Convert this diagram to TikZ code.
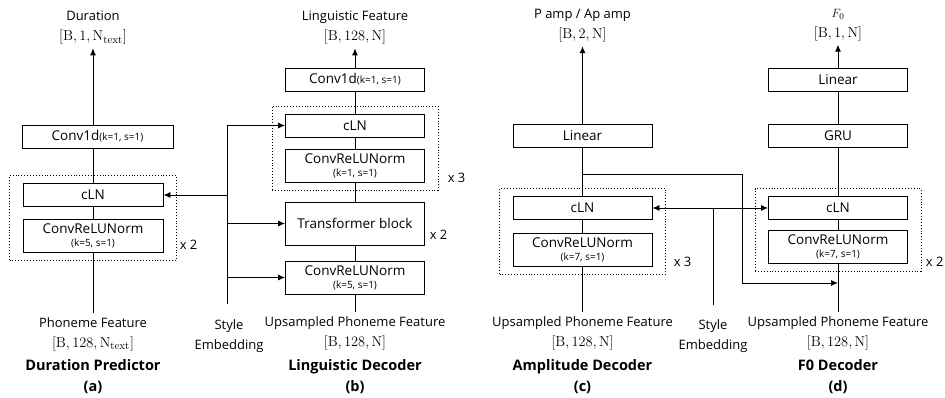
\documentclass[tikz,border=0pt]{standalone}
\usepackage[no-math]{fontspec}
\setmainfont{Open Sans}
\usetikzlibrary{arrows.meta,positioning,fit}

\tikzset{
  blk/.style={draw, rectangle, line width=0.9pt, minimum width=139pt, minimum height=23pt, inner sep=1pt, align=center, font=\fontsize{13.5}{13}\selectfont},
  tallblk/.style={blk, minimum height=33pt},
  rep/.style={draw, dotted, line width=0.9pt, inner xsep=13pt, inner ysep=7.5pt},
  lbl/.style={align=center, font=\fontsize{13}{20}\selectfont},
  ttl/.style={align=center, font=\fontsize{14.5}{21}\selectfont\bfseries},
  cnt/.style={anchor=west, font=\fontsize{13}{14}\selectfont},
  arr/.style={-{Latex[length=7pt,width=6pt]}},
  darr/.style={{Latex[length=7pt,width=6pt]}-{Latex[length=7pt,width=6pt]}},
}
\newcommand{\kspec}[1]{{\fontsize{10}{11}\selectfont(#1)}}
\newcommand{\shp}[1]{{\fontsize{15}{20}\selectfont$[\mathrm{B}, #1]$}}

\begin{document}
\begin{tikzpicture}[x=1pt, y=-1pt, line width=0.9pt]
    \useasboundingbox (0,0) rectangle (945,398);

    % (a) duration predictor
    \node[blk, minimum width=151pt] (convA) at (97.5,136.5) {Conv1d\kspec{k=1, s=1}};
    \node[blk, minimum width=140pt] (clnA) at (93,195) {cLN};
    \node[tallblk, minimum width=140pt] (crnA) at (93,236) {ConvReLUNorm\\\kspec{k=5, s=1}};
    \node[rep, fit=(clnA)(crnA)] (repA) {};
    \node[cnt] at (176,245) {x 2};
    \node[lbl] (outA) at (93,28) {Duration\\\shp{1, \mathrm{N}_{\mathrm{text}}}};
    \node[lbl] (inA) at (93,334) {Phoneme Feature\\\shp{128, \mathrm{N}_{\mathrm{text}}}};
    \node[ttl] (ttlA) at (93,377) {Duration Predictor\\(a)};

    \draw[arr] (clnA.north |- convA.north) -- (outA.south);
    \draw (clnA.north) -- (clnA.north |- convA.south);
    \draw (clnA) -- (crnA);
    \draw (crnA) -- (inA);

    % (b) linguistic decoder
    \node[blk] (convB) at (355,79.5) {Conv1d\kspec{k=1, s=1}};
    \node[blk] (clnB) at (355,125.5) {cLN};
    \node[tallblk] (crnB) at (355,166) {ConvReLUNorm\\\kspec{k=1, s=1}};
    \node[rep, fit=(clnB)(crnB)] (repB) {};
    \node[cnt] at (444,178) {x 3};
    \node[blk, minimum height=43pt] (tfB) at (355,223.5) {Transformer block};
    \node[cnt] at (426,235) {x 2};
    \node[tallblk] (crnB2) at (355,277.5) {ConvReLUNorm\\\kspec{k=5, s=1}};
    \node[lbl] (outB) at (355,28) {Linguistic Feature\\\shp{128, \mathrm{N}}};
    \node[lbl] (inB) at (355,333) {Upsampled Phoneme Feature\\\shp{128, \mathrm{N}}};
    \node[ttl] (ttlB) at (355,377) {Linguistic Decoder\\(b)};

    \draw[arr] (convB) -- (outB);
    \draw (convB) -- (clnB);
    \draw (clnB) -- (crnB);
    \draw (crnB) -- (tfB);
    \draw (tfB) -- (crnB2);
    \draw (crnB2) -- (inB);

    % style embedding for (a) and (b)
    \coordinate (styAend) at (227,304);
    \node[lbl, below=12pt of styAend, xshift=2pt] (styA) {Style\\Embedding};
    \draw[arr] (styAend) |- (clnB.west);
    \draw[arr] (styAend |- clnA.east) -- (clnA.east);
    \draw[arr] (styAend |- tfB.west) -- (tfB.west);
    \draw[arr] (styAend |- crnB2.west) -- (crnB2.west);

    % (c) amplitude decoder
    \node[blk] (linC) at (582.5,135.5) {Linear};
    \node[blk] (clnC) at (582.5,208) {cLN};
    \node[tallblk] (crnC) at (582.5,249.5) {ConvReLUNorm\\\kspec{k=7, s=1}};
    \node[rep, fit=(clnC)(crnC)] (repC) {};
    \node[cnt] at (670,262) {x 3};
    \node[lbl] (outC) at (582.5,26) {P amp / Ap amp\\\shp{2, \mathrm{N}}};
    \node[lbl] (inC) at (582.5,333) {Upsampled Phoneme Feature\\\shp{128, \mathrm{N}}};
    \node[ttl] (ttlC) at (582.5,377) {Amplitude Decoder\\(c)};

    \draw[arr] (linC) -- (outC);
    \draw (linC) -- (clnC);
    \draw (clnC) -- (crnC);
    \draw (crnC) -- (inC);

    % (d) f0 decoder
    \node[blk] (linD) at (838,79.5) {Linear};
    \node[blk] (gruD) at (838,135.5) {GRU};
    \node[blk] (clnD) at (838,208) {cLN};
    \node[tallblk] (crnD) at (838,247) {ConvReLUNorm\\\kspec{k=7, s=1}};
    \node[rep, fit=(clnD)(crnD)] (repD) {};
    \node[cnt, anchor=east, inner xsep=1pt] at (945,262) {x 2};
    \node[lbl] (outD) at (838,25) {$F_0$\\\shp{1, \mathrm{N}}};
    \node[lbl] (inD) at (838,333) {Upsampled Phoneme Feature\\\shp{128, \mathrm{N}}};
    \node[ttl] (ttlD) at (838,377) {F0 Decoder\\(d)};

    \draw[arr] (linD) -- (outD);
    \draw (gruD) -- (linD);
    \draw (clnD) -- (gruD);
    \draw (clnD) -- (crnD);
    \draw (crnD) -- (inD);

    % style embedding for (c) and (d)
    \coordinate (styBend) at (713,305);
    \node[lbl, below=11pt of styBend] (styB) {Style\\Embedding};
    \draw[darr] (clnC.east) -- (clnD.west);
    \draw (styBend) -- (styBend |- clnC.east);

    % skip from amplitude decoder into f0 decoder
    \coordinate (skipC) at (582.5,174);
    \coordinate (turnC) at (742,283);
    \draw[arr] (skipC) -| (turnC) -- (crnD.south |- turnC);
\end{tikzpicture}
\end{document}
